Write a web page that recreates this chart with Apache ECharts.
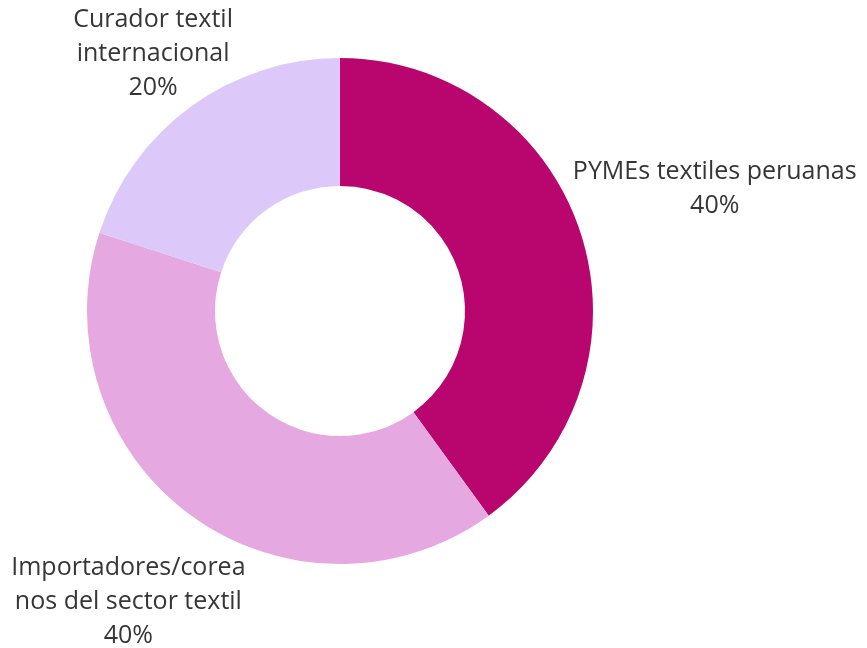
<!DOCTYPE html>
<html>
<head>
<meta charset="utf-8">
<script src="https://cdn.jsdelivr.net/npm/echarts@6/dist/echarts.min.js"></script>
<style>
  html, body { margin: 0; padding: 0; background: #fff; }
  #donut { width: 867px; height: 648px; }
</style>
</head>
<body>
<div id="donut"></div>
<script>
// data
var categories = ['PYMEs textiles peruanas', 'Importadores/coreanos del sector textil', 'Curador textil internacional'];
var labelTexts = ['PYMEs textiles peruanas', 'Importadores/corea\nnos del sector textil', 'Curador textil\ninternacional'];
var values = [40, 40, 20];

// styles
var colors = ['#B8066E', '#E5A8E0', '#DDC9F9'];
var CX = 340, CY = 311;
var labelDist = [394, 360, 318];

var chartDom = document.getElementById('donut');
var myChart = echarts.init(chartDom);
var option;

var total = values.reduce(function (a, b) { return a + b; }, 0);

option = {
  animation: false,
  series: [
    {
      type: 'pie',
      center: [CX, CY],
      radius: [125, 253],
      startAngle: 90,
      clockwise: true,
      avoidLabelOverlap: false,
      data: categories.map(function (name, i) {
        return { name: name, value: values[i], itemStyle: { color: colors[i] } };
      }),
      label: {
        show: true,
        position: 'outside',
        fontFamily: 'Open Sans',
        fontSize: 25,
        lineHeight: 34,
        color: '#363636',
        formatter: function (p) {
          return labelTexts[p.dataIndex] + '\n' + Math.round(p.percent) + '%';
        }
      },
      labelLine: { show: false },
      emphasis: { disabled: true },
      // put each label centred on its slice's middle ray
      labelLayout: function (p) {
        var i = p.dataIndex;
        var before = 0;
        for (var k = 0; k < i; k++) before += values[k];
        var mid = (before + values[i] / 2) / total * Math.PI * 2;
        return {
          x: CX + labelDist[i] * Math.sin(mid),
          y: CY - labelDist[i] * Math.cos(mid),
          align: 'center',
          verticalAlign: 'middle'
        };
      }
    }
  ]
};

option && myChart.setOption(option);
</script>
</body>
</html>
